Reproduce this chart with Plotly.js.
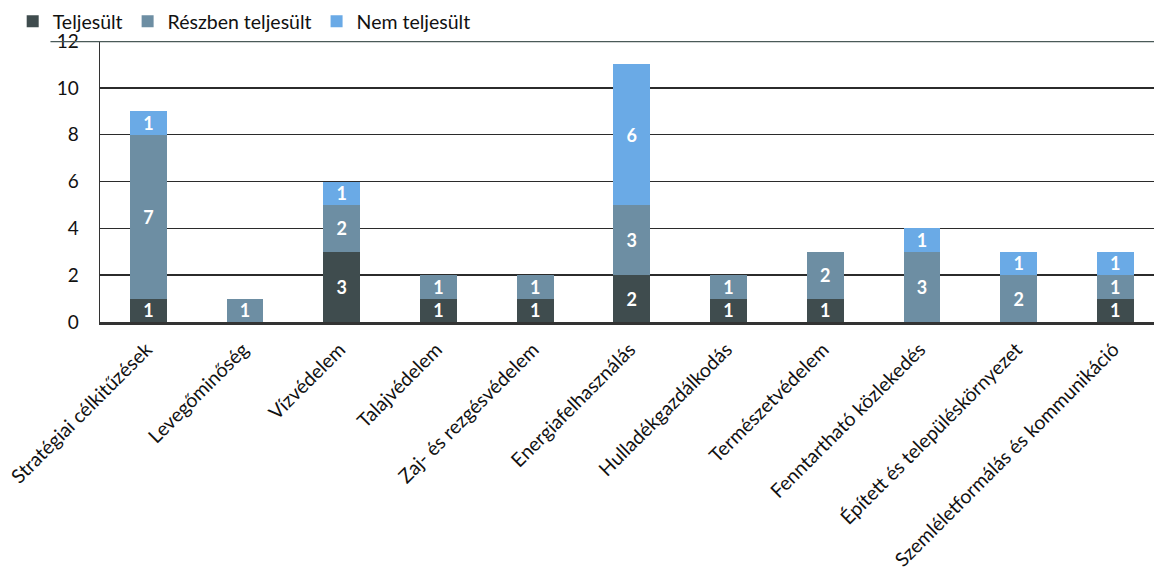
<!DOCTYPE html>
<html>
<head>
<meta charset="utf-8">
<script src="https://cdn.plot.ly/plotly-3.0.1.min.js"></script>
<style>html,body{margin:0;padding:0;background:#fff;}#chart{width:1154px;height:576px;}</style>
</head>
<body>
<div id="chart"></div>
<script>
const categories = [
  "Stratégiai célkitűzések",
  "Levegőminőség",
  "Vízvédelem",
  "Talajvédelem",
  "Zaj- és rezgésvédelem",
  "Energiafelhasználás",
  "Hulladékgazdálkodás",
  "Természetvédelem",
  "Fenntartható közlekedés",
  "Épített és településkörnyezet",
  "Szemléletformálás és kommunikáció"
];
const teljesult = [1, 0, 3, 1, 1, 2, 1, 1, 0, 0, 1];
const reszben   = [7, 1, 2, 1, 1, 3, 1, 2, 3, 2, 1];
const nem       = [1, 0, 1, 0, 0, 6, 0, 0, 1, 1, 1];
const seriesNames = ["Teljesült", "Részben teljesült", "Nem teljesült"];
const yTicks = [0, 2, 4, 6, 8, 10, 12];

const colors = ["#3f4c4e", "#6d8ea3", "#6aaae6"];
const FONT = "Lato, 'Open Sans', sans-serif";

function mk(vals, i) {
  const y = vals.map(v => v === 0 ? null : v);
  return {
    type: "bar",
    name: seriesNames[i],
    x: categories,
    y: y,
    text: vals.map(v => v === 0 ? "" : String(v)),
    textposition: "inside",
    insidetextanchor: "middle",
    constraintext: "none",
    textangle: 0,
    textfont: {family: FONT, size: 18, color: "#ffffff", weight: "bold"},
    marker: {color: colors[i], line: {width: 0}},
    hoverinfo: "none"
  };
}

const data = [mk(teljesult, 0), mk(reszben, 1), mk(nem, 2)];

const layout = {
  width: 1154,
  height: 576,
  margin: {l: 100, r: 0, t: 40, b: 254},
  paper_bgcolor: "#ffffff",
  plot_bgcolor: "#ffffff",
  barmode: "stack",
  bargap: 0.62,
  font: {family: FONT, size: 19, color: "#111"},
  showlegend: true,
  legend: {
    orientation: "h",
    xref: "container", yref: "container",
    x: 0.011, y: 0.9965, xanchor: "left", yanchor: "top",
    font: {family: FONT, size: 19.5, color: "#111"},
    itemwidth: 30,
    traceorder: "normal",
    bgcolor: "rgba(0,0,0,0)"
  },
  xaxis: {
    type: "category",
    range: [-0.5, 10.4],
    tickangle: -45,
    ticklabelshift: -2,
    ticklabelstandoff: 6,
    showline: true,
    linecolor: "#333",
    linewidth: 2.5,
    showgrid: false,
    ticks: "",
    tickfont: {family: FONT, size: 19.5, color: "#111"},
    fixedrange: true
  },
  yaxis: {
    range: [0, 12],
    tickvals: yTicks,
    ticktext: yTicks.map(String),
    showline: true,
    linecolor: "#333",
    linewidth: 1.5,
    showgrid: true,
    gridcolor: "#2b2b2b",
    gridwidth: 1.6,
    zeroline: false,
    ticks: "outside",
    ticklen: 16,
    tickcolor: "rgba(0,0,0,0)",
    tickfont: {family: FONT, size: 19, color: "#111"},
    fixedrange: true
  },
  shapes: [{
    type: "line", xref: "paper", yref: "y",
    x0: -0.047, x1: 1, y0: 12, y1: 12,
    line: {color: "#4a5a58", width: 2.5}
  }]
};

Plotly.newPlot("chart", data, layout, {displayModeBar: false, staticPlot: true});
</script>
</body>
</html>
